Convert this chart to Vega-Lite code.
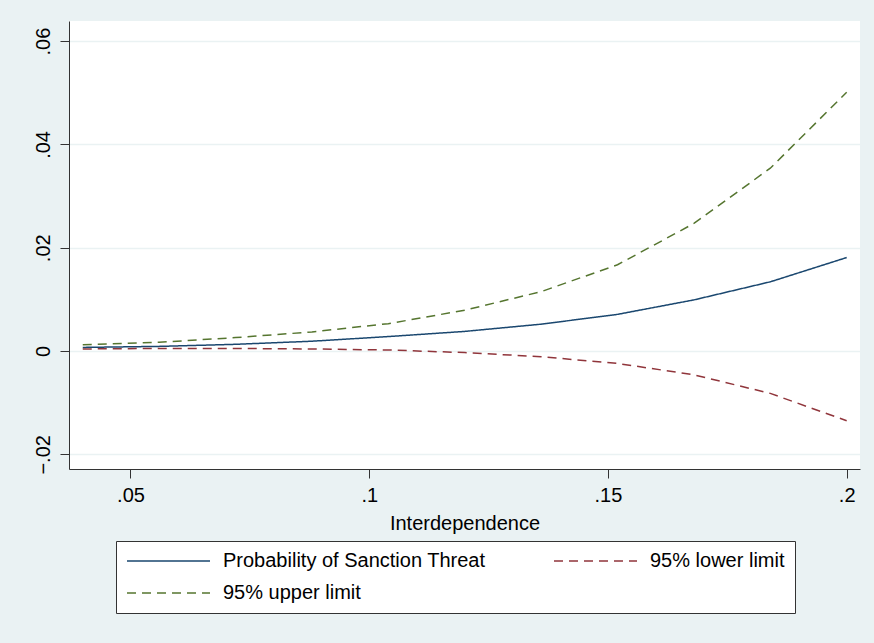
{
  "$schema": "https://vega.github.io/schema/vega-lite/v6.json",
  "autosize": "none",
  "width": 791,
  "height": 448,
  "padding": {"left": 69, "top": 21, "right": 14, "bottom": 174},
  "background": "#eaf2f3",
  "config": {
    "view": {"fill": "#ffffff", "stroke": null},
    "font": "Liberation Sans"
  },
  "data": {
    "values": [
      {"x": 0.04, "prob": 0.0007, "lower": 0.0004, "upper": 0.0012},
      {"x": 0.056, "prob": 0.0009, "lower": 0.0005, "upper": 0.0017},
      {"x": 0.072, "prob": 0.0013, "lower": 0.0005, "upper": 0.0026},
      {"x": 0.088, "prob": 0.0019, "lower": 0.0004, "upper": 0.0037},
      {"x": 0.104, "prob": 0.0028, "lower": 0.0002, "upper": 0.0053},
      {"x": 0.12, "prob": 0.0038, "lower": -0.0003, "upper": 0.0079},
      {"x": 0.136, "prob": 0.0052, "lower": -0.0011, "upper": 0.0115},
      {"x": 0.152, "prob": 0.0071, "lower": -0.0024, "upper": 0.0167},
      {"x": 0.168, "prob": 0.0099, "lower": -0.0046, "upper": 0.0247},
      {"x": 0.184, "prob": 0.0134, "lower": -0.0082, "upper": 0.0354},
      {"x": 0.2, "prob": 0.0181, "lower": -0.0135, "upper": 0.0501}
    ]
  },
  "transform": [
    {"fold": ["prob", "lower", "upper"], "as": ["key", "value"]},
    {"lookup": "key", "from": {"data": {"values": [
      {"key": "prob", "series": "Probability of Sanction Threat"},
      {"key": "lower", "series": "95% lower limit"},
      {"key": "upper", "series": "95% upper limit"}
    ]}, "key": "key", "fields": ["series"]}}
  ],
  "mark": {"type": "line", "strokeWidth": 1.5},
  "encoding": {
    "x": {
      "field": "x", "type": "quantitative",
      "scale": {"domain": [0.03712, 0.20279], "nice": false, "zero": false},
      "axis": {
        "values": [0.05, 0.1, 0.15, 0.2],
        "title": "Interdependence",
        "titleFont": "Liberation Sans", "titleFontSize": 20, "titleFontWeight": "normal", "titleColor": "#000", "titlePadding": 8,
        "labelFont": "Liberation Sans", "labelFontSize": 20, "labelColor": "#000", "labelPadding": 7,
        "labelExpr": "replace(format(datum.value, '~g'), '0.', '.')",
        "tickSize": 9, "tickColor": "#333", "domainColor": "#333", "grid": false
      }
    },
    "y": {
      "field": "value", "type": "quantitative",
      "scale": {"domain": [-0.02284, 0.0639], "nice": false, "zero": false},
      "axis": {
        "values": [-0.02, 0, 0.02, 0.04, 0.06],
        "title": null,
        "labelFont": "Liberation Sans", "labelFontSize": 20, "labelColor": "#000",
        "labelAngle": 270, "labelAlign": "center", "labelBaseline": "bottom", "labelPadding": 7,
        "labelExpr": "datum.value == 0 ? '0' : (datum.value < 0 ? '−' : '') + replace(format(abs(datum.value), '.2f'), '0.', '.')",
        "tickSize": 9, "tickColor": "#333", "domainColor": "#333",
        "grid": true, "gridColor": "#eaf2f3", "gridWidth": 1.5
      }
    },
    "color": {
      "field": "series", "type": "nominal",
      "scale": {
        "domain": ["Probability of Sanction Threat", "95% lower limit", "95% upper limit"],
        "range": ["#1a476f", "#90353b", "#55752f"]
      },
      "legend": {
        "title": null, "orient": "none", "legendX": 47, "legendY": 520, "direction": "horizontal",
        "columns": 2, "columnPadding": 65, "rowPadding": 12,
        "symbolType": "M-1.125,0H9.25", "symbolSize": 256, "symbolStrokeWidth": 1.5,
        "labelFont": "Liberation Sans", "labelFontSize": 20, "labelColor": "#000", "labelOffset": 77, "labelLimit": 400,
        "padding": 10, "strokeColor": "#333", "fillColor": "#ffffff"
      }
    },
    "strokeDash": {
      "field": "series", "type": "nominal",
      "scale": {
        "domain": ["Probability of Sanction Threat", "95% lower limit", "95% upper limit"],
        "range": [[1, 0], [9, 6], [9, 6]]
      },
      "legend": {
        "title": null, "orient": "none", "legendX": 47, "legendY": 520, "direction": "horizontal",
        "columns": 2, "columnPadding": 65, "rowPadding": 12,
        "symbolType": "M-1.125,0H9.25", "symbolSize": 256, "symbolStrokeWidth": 1.5,
        "labelFont": "Liberation Sans", "labelFontSize": 20, "labelColor": "#000", "labelOffset": 77, "labelLimit": 400,
        "padding": 10, "strokeColor": "#333", "fillColor": "#ffffff"
      }
    }
  }
}
